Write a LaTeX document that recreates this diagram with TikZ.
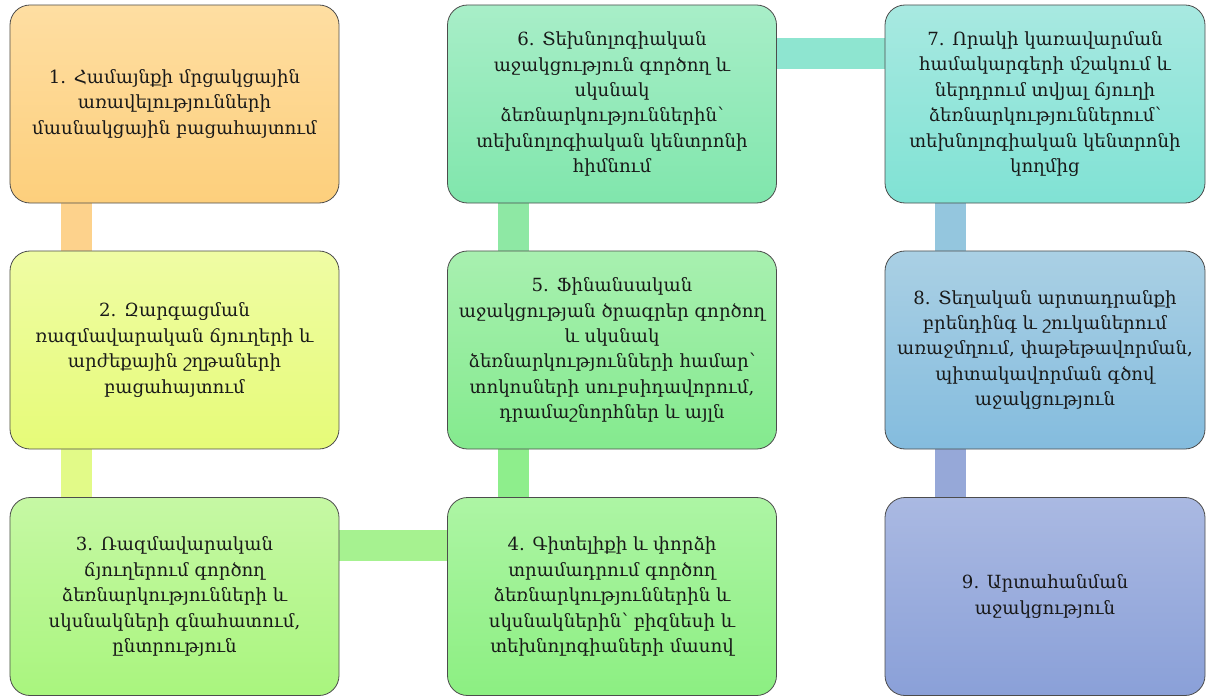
\documentclass[tikz,border=0pt]{standalone}
\usepackage{fontspec}
\setmainfont{DejaVu Serif}
\usetikzlibrary{backgrounds}
% box colours, top and bottom of each gradient
\definecolor{oneT}{HTML}{FEDEA2}\definecolor{oneB}{HTML}{FDCF7C}
\definecolor{twoT}{HTML}{EFFCA4}\definecolor{twoB}{HTML}{E6FB78}
\definecolor{thrT}{HTML}{C6F8A4}\definecolor{thrB}{HTML}{A9F57E}
\definecolor{fouT}{HTML}{ADF5A4}\definecolor{fouB}{HTML}{8CEF82}
\definecolor{fivT}{HTML}{A8F0B0}\definecolor{fivB}{HTML}{84EA8E}
\definecolor{sixT}{HTML}{A8EEC8}\definecolor{sixB}{HTML}{80E6AC}
\definecolor{sevT}{HTML}{A8E9E1}\definecolor{sevB}{HTML}{80E2D4}
\definecolor{eigT}{HTML}{AAD0E4}\definecolor{eigB}{HTML}{84BCDE}
\definecolor{ninT}{HTML}{AAB9E2}\definecolor{ninB}{HTML}{8AA0D8}
% connector bar colours
\definecolor{barA}{HTML}{FDD28C}\definecolor{barB}{HTML}{E2FA88}
\definecolor{barC}{HTML}{A6F290}\definecolor{barD}{HTML}{8EEE8C}
\definecolor{barE}{HTML}{8EE8A4}\definecolor{barF}{HTML}{8EE5D0}
\definecolor{barG}{HTML}{94C6DE}\definecolor{barH}{HTML}{96A8D8}
\tikzset{
  stepbox/.style={draw=black!70, line width=0.8bp, rounded corners=20bp,
    minimum width=329bp, minimum height=198bp, inner sep=0pt, align=center,
    text=black!90, font=\fontsize{18.2}{25.5}\selectfont},
  narrowbox/.style={stepbox, minimum width=320bp},
  bar/.style={line width=31bp},
}
\begin{document}
\begin{tikzpicture}[x=1bp, y=-1bp]
\useasboundingbox (0,0) rectangle (1206,696);
% --- first column ---
\node[stepbox, top color=oneT, bottom color=oneB] (s1) at (174.5,104)
  {1. Համայնքի մրցակցային\\առավելությունների\\մասնակցային բացահայտում};
\node[stepbox, top color=twoT, bottom color=twoB] (s2) at (174.5,350)
  {2. Զարգացման\\ռազմավարական ճյուղերի և\\արժեքային շղթաների\\բացահայտում};
\node[stepbox, top color=thrT, bottom color=thrB] (s3) at (174.5,596.5)
  {3. Ռազմավարական\\ճյուղերում գործող\\ձեռնարկությունների և\\սկսնակների գնահատում,\\ընտրություն};
% --- second column ---
\node[stepbox, top color=fouT, bottom color=fouB] (s4) at (612,596.5)
  {4. Գիտելիքի և փորձի\\տրամադրում գործող\\ձեռնարկություններին և\\սկսնակներին՝ բիզնեսի և\\տեխնոլոգիաների մասով};
\node[stepbox, top color=fivT, bottom color=fivB] (s5) at (612,350)
  {5. Ֆինանսական\\աջակցության ծրագրեր գործող\\և սկսնակ\\ձեռնարկությունների համար՝\\տոկոսների սուբսիդավորում,\\դրամաշնորհներ և այլն};
\node[stepbox, top color=sixT, bottom color=sixB] (s6) at (612,104)
  {6. Տեխնոլոգիական\\աջակցություն գործող և\\սկսնակ\\ձեռնարկություններին՝\\տեխնոլոգիական կենտրոնի\\հիմնում};
% --- third column ---
\node[narrowbox, top color=sevT, bottom color=sevB] (s7) at (1045,104)
  {7. Որակի կառավարման\\համակարգերի մշակում և\\ներդրում տվյալ ճյուղի\\ձեռնարկություններում՝\\տեխնոլոգիական կենտրոնի\\կողմից};
\node[narrowbox, top color=eigT, bottom color=eigB] (s8) at (1045,350)
  {8. Տեղական արտադրանքի\\բրենդինգ և շուկաներում\\առաջմղում, փաթեթավորման,\\պիտակավորման գծով\\աջակցություն};
\node[narrowbox, top color=ninT, bottom color=ninB] (s9) at (1045,596.5)
  {9. Արտահանման\\աջակցություն};
% --- connector bars ---
\begin{scope}[on background layer]
\draw[bar, barA] ([xshift=66.5bp]s1.south west) -- ([xshift=66.5bp]s2.north west);
\draw[bar, barB] ([xshift=66.5bp]s2.south west) -- ([xshift=66.5bp]s3.north west);
\draw[bar, barC] ([yshift=-48.5bp]s3.north east) -- ([yshift=-48.5bp]s4.north west);
\draw[bar, barD] ([xshift=66.5bp]s4.north west) -- ([xshift=66.5bp]s5.south west);
\draw[bar, barE] ([xshift=66.5bp]s5.north west) -- ([xshift=66.5bp]s6.south west);
\draw[bar, barF] ([yshift=-48.5bp]s6.north east) -- ([yshift=-48.5bp]s7.north west);
\draw[bar, barG] ([xshift=65.5bp]s7.south west) -- ([xshift=65.5bp]s8.north west);
\draw[bar, barH] ([xshift=65.5bp]s8.south west) -- ([xshift=65.5bp]s9.north west);
\end{scope}
\end{tikzpicture}
\end{document}
